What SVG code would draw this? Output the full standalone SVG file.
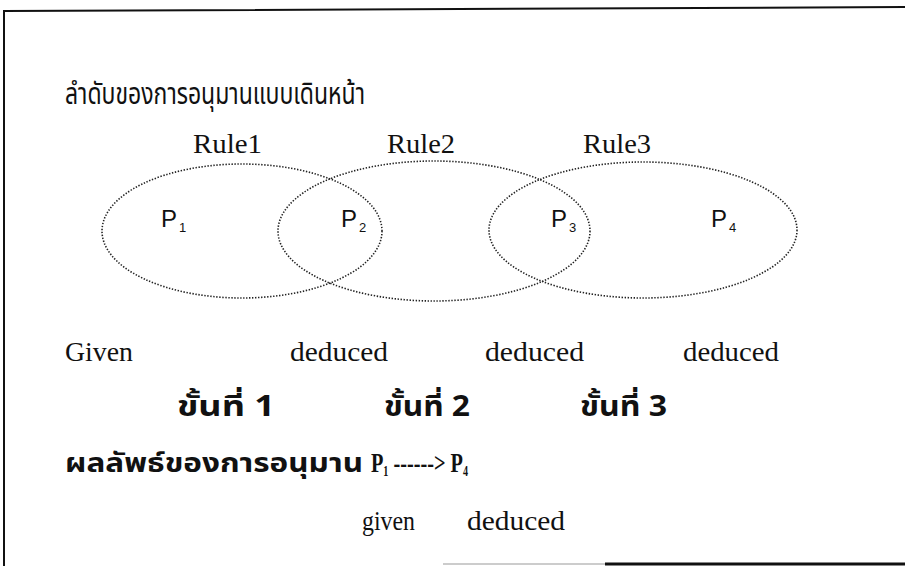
<svg xmlns="http://www.w3.org/2000/svg" width="905" height="566" viewBox="0 0 905 566">
<style>
.thai { font-family: "Noto Sans Thai", "Noto Sans", "DejaVu Sans", sans-serif; fill:#111; }
.thb { font-weight: bold; }
.ser { font-family: "Liberation Serif", serif; fill:#111; font-size:28px; }
.serb { font-weight: bold; }
.psans { font-family: "Liberation Sans", sans-serif; font-size:24px; fill:#111; }
.sub { font-family: "Liberation Sans", sans-serif; font-size:13px; fill:#111; }
.ell { fill:none; stroke:#222; stroke-width:1.6; stroke-dasharray:1.4 1.6; }
.frame { fill:none; stroke:#111; stroke-width:2; }
</style>
<rect width="905" height="566" fill="#fff"/>
<g id="frame">
  <path class="frame" d="M4,566 V11 L905,7"/>
  <path d="M443,564 H605" stroke="#ccc" stroke-width="2"/>
  <path d="M605,564 H905" stroke="#111" stroke-width="3"/>
</g>
<g id="title">
  <text class="thai" x="65" y="104" font-size="31" textLength="300" lengthAdjust="spacingAndGlyphs">ลำดับของการอนุมานแบบเดินหน้า</text>
</g>
<g id="rules">
  <text class="ser" x="193" y="153" textLength="69" lengthAdjust="spacingAndGlyphs">Rule1</text>
  <text class="ser" x="387" y="153" textLength="68" lengthAdjust="spacingAndGlyphs">Rule2</text>
  <text class="ser" x="583" y="153" textLength="68" lengthAdjust="spacingAndGlyphs">Rule3</text>
</g>
<g id="connectors"></g>
<g id="rule1-set"><ellipse class="ell" cx="242" cy="231" rx="140" ry="67"/></g>
<g id="rule2-set"><ellipse class="ell" cx="434" cy="231" rx="156" ry="70"/></g>
<g id="rule3-set"><ellipse class="ell" cx="643" cy="230" rx="154" ry="68"/></g>
<g id="p1"><text class="psans" x="161" y="227">P<tspan class="sub" dx="2" dy="5">1</tspan></text></g>
<g id="p2"><text class="psans" x="341" y="227">P<tspan class="sub" dx="2" dy="5">2</tspan></text></g>
<g id="p3"><text class="psans" x="551" y="227">P<tspan class="sub" dx="2" dy="5">3</tspan></text></g>
<g id="p4"><text class="psans" x="711" y="227">P<tspan class="sub" dx="2" dy="5">4</tspan></text></g>
<g id="status">
  <text class="ser" x="65" y="361" textLength="68" lengthAdjust="spacingAndGlyphs">Given</text>
  <text class="ser" x="290" y="361" textLength="98" lengthAdjust="spacingAndGlyphs">deduced</text>
  <text class="ser" x="485" y="361" textLength="99" lengthAdjust="spacingAndGlyphs">deduced</text>
  <text class="ser" x="683" y="361" textLength="96" lengthAdjust="spacingAndGlyphs">deduced</text>
</g>
<g id="steps">
  <text class="thai thb" x="177" y="416" font-size="28" textLength="98" lengthAdjust="spacingAndGlyphs">ขั้นที่ 1</text>
  <text class="thai thb" x="384" y="416" font-size="28" textLength="86" lengthAdjust="spacingAndGlyphs">ขั้นที่ 2</text>
  <text class="thai thb" x="580" y="416" font-size="28" textLength="87" lengthAdjust="spacingAndGlyphs">ขั้นที่ 3</text>
</g>
<g id="result">
  <text class="thai thb" x="65" y="472" font-size="26" textLength="298" lengthAdjust="spacingAndGlyphs">ผลลัพธ์ของการอนุมาน</text>
  <text class="ser serb" x="371" y="472" font-size="24" textLength="97" lengthAdjust="spacingAndGlyphs">P<tspan font-size="14" dy="4">1</tspan><tspan dy="-4"> ------&gt; P</tspan><tspan font-size="14" dy="4">4</tspan></text>
</g>
<g id="result-labels">
  <text class="ser" x="362" y="530" textLength="53" lengthAdjust="spacingAndGlyphs">given</text>
  <text class="ser" x="467" y="530" textLength="98" lengthAdjust="spacingAndGlyphs">deduced</text>
</g>
</svg>
